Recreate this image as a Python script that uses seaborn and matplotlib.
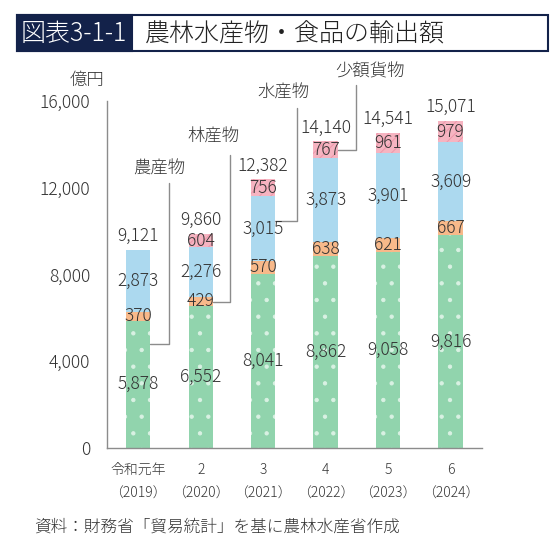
import matplotlib
matplotlib.use("Agg")
import matplotlib.pyplot as plt
import seaborn as sns
import numpy as np
import pandas as pd
from matplotlib.patches import Rectangle

# ========== DATOS ==========
nendo = ["令和元年", "2", "3", "4", "5", "6"]
seireki = ["（2019）", "（2020）", "（2021）", "（2022）", "（2023）", "（2024）"]
nousan = [5878, 6552, 8041, 8862, 9058, 9816]
rinsan = [370, 429, 570, 638, 621, 667]
suisan = [2873, 2276, 3015, 3873, 3901, 3609]
shogaku = [0, 604, 756, 767, 961, 979]
goukei = [9121, 9860, 12382, 14140, 14541, 15071]

series_names = ["農産物", "林産物", "水産物", "少額貨物"]
series_vals = [nousan, rinsan, suisan, shogaku]
colors = ["#91d4ad", "#f8b98a", "#acd9ef", "#f6b4c1"]
hatch_colors = ["#d9f1e3", "#f8b98a", "#acd9ef", "#ee97aa"]
hatches = [".", None, None, "///"]

sns.set_style("white")
plt.rcParams["font.family"] = ["Noto Sans CJK JP", "DejaVu Sans"]
plt.rcParams["font.weight"] = "light"
plt.rcParams["hatch.linewidth"] = 0.7

txt = "#333333"
fig = plt.figure(figsize=(5.59, 5.47), dpi=100)
ax = fig.add_axes([0.1914, 0.181, 0.6706, 0.6344])

df = pd.DataFrame({"x": list(range(len(nendo)))})
bottom = np.zeros(len(nendo))
for name, vals, c, hc, h in zip(series_names, series_vals, colors, hatch_colors, hatches):
    df["v"] = vals
    sns.barplot(data=df, x="x", y="v", bottom=bottom, color=c, width=0.39,
                saturation=1, edgecolor=hc, linewidth=0, hatch=h, ax=ax, zorder=2)
    # etiquetas de cada segmento
    for i, v in enumerate(vals):
        if v > 0:
            ax.text(i, bottom[i] + v / 2, f"{v:,}", ha="center", va="center",
                    fontsize=12.5, color=txt, zorder=5)
    bottom = bottom + np.array(vals)

for i, t in enumerate(goukei):
    ax.annotate(f"{t:,}", (i, bottom[i]), xytext=(0, 10), textcoords="offset points",
                ha="center", va="center", fontsize=12.5, color=txt)

# ========== LINEAS GUIA ==========
lc = "#8c8c8c"
ax.plot([0.195, 0.5, 0.5], [4800, 4800, 12200], color=lc, lw=1, clip_on=False)
ax.plot([1.195, 1.47, 1.47], [6750, 6750, 13500], color=lc, lw=1, clip_on=False)
ax.plot([2.195, 2.54, 2.54], [10480, 10480, 15680], color=lc, lw=1, clip_on=False)
ax.plot([3.195, 3.49, 3.49], [13750, 13750, 16740], color=lc, lw=1, clip_on=False)
ax.text(0.335, 12870, "農産物", ha="center", va="center", fontsize=12.5, color=txt)
ax.text(1.2, 14345, "林産物", ha="center", va="center", fontsize=12.5, color=txt)
ax.text(2.32, 16375, "水産物", ha="center", va="center", fontsize=12.5, color=txt)
ax.text(3.71, 17340, "少額貨物", ha="center", va="center", fontsize=12.5,
        color=txt, clip_on=False)

# ========== EJES ==========
ax.set_xlim(-0.5, 5.5)
ax.set_ylim(0, 16000)
ax.set_yticks([0, 4000, 8000, 12000, 16000])
ax.set_yticklabels([f"{v:,}" for v in [0, 4000, 8000, 12000, 16000]], fontsize=12.5, color=txt)
ax.set_xticks(range(len(nendo)))
ax.set_xticklabels([])
ax.tick_params(axis="y", direction="in", length=6, color=lc, pad=12)
ax.tick_params(axis="x", length=0)
ax.set_xlabel("")
ax.set_ylabel("")
for s in ["top", "right"]:
    ax.spines[s].set_visible(False)
for s in ["left", "bottom"]:
    ax.spines[s].set_color(lc)
    ax.spines[s].set_linewidth(1)

for i in range(len(nendo)):
    ax.text(i, -1000, nendo[i], ha="center", va="center", fontsize=10, color=txt)
    ax.text(i, -2100, seireki[i], ha="center", va="center", fontsize=10, color=txt)

fig.text(87 / 559, 1 - 80 / 547, "億円", ha="center", va="center", fontsize=12.5, color=txt)

# ========== TITULO ==========
navy = "#13224a"
fig.patches.append(Rectangle((17 / 559, 1 - 51 / 547), (548 - 17) / 559, 36 / 547,
                             transform=fig.transFigure, facecolor="white",
                             edgecolor=navy, linewidth=1.5))
fig.patches.append(Rectangle((17 / 559, 1 - 51 / 547), (132 - 17) / 559, 36 / 547,
                             transform=fig.transFigure, facecolor=navy, edgecolor=navy,
                             linewidth=1.5))
fig.text(74 / 559, 1 - 34 / 547, "図表3-1-1", ha="center", va="center",
         fontsize=18, color="white")
fig.text(145 / 559, 1 - 34 / 547, "農林水産物・食品の輸出額", ha="left", va="center",
         fontsize=18, color="#222222")

fig.text(34 / 559, 1 - 527 / 547, "資料：財務省「貿易統計」を基に農林水産省作成",
         ha="left", va="center", fontsize=12, color=txt)

fig.savefig("out.png", dpi=100)
plt.close()
